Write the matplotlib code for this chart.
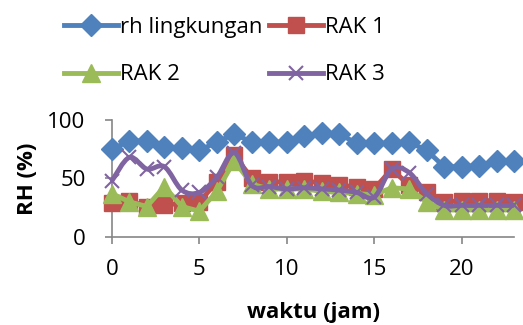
import numpy as np
import matplotlib.pyplot as plt
from matplotlib.path import Path
from matplotlib.patches import PathPatch
from matplotlib.lines import Line2D

plt.rcParams['font.family'] = ['Open Sans', 'DejaVu Sans']

jam = list(range(24))
rh_lingkungan = [75, 82, 82, 77, 76, 74, 81, 88, 81, 81, 81, 86,
                 89, 88, 80, 80, 80, 81, 74, 60, 60, 61, 65, 65]
rak1 = [29, 31, 26, 27, 29, 30, 47, 70, 50, 47, 47, 48,
        46, 44, 43, 41, 58, 44, 38, 30, 31, 31, 31, 30]
rak2 = [37, 30, 26, 43, 26, 22, 39, 65, 45, 41, 41, 41,
        39, 38, 37, 36, 42, 41, 30, 23, 23, 23, 23, 23]
rak3 = [48, 68, 58, 60, 40, 38, 51, 72, 44, 43, 41, 42,
        41, 40, 38, 34, 58, 55, 37, 27, 27, 27, 27, 27]

blue = '#4F81BD'
red = '#C0504D'
green = '#9BBB59'
purple = '#8064A2'
axis_gray = '#868686'


def smooth_path(xs, ys, t=1 / 6):
    # Catmull-Rom style cubic Bezier through every point
    xs = np.asarray(xs, float)
    ys = np.asarray(ys, float)
    pts = np.column_stack([xs, ys])
    verts = [pts[0]]
    codes = [Path.MOVETO]
    n = len(pts)
    for i in range(n - 1):
        p0 = pts[max(i - 1, 0)]
        p1 = pts[i]
        p2 = pts[i + 1]
        p3 = pts[min(i + 2, n - 1)]
        c1 = p1 + (p2 - p0) * t
        c2 = p2 - (p3 - p1) * t
        verts += [c1, c2, p2]
        codes += [Path.CURVE4] * 3
    return Path(verts, codes)


fig = plt.figure(figsize=(5.23, 3.25), dpi=100)
ax = fig.add_axes([0.214, 0.271, 0.769, 0.36])

ax.plot(jam, rh_lingkungan, color=blue, lw=3.5, marker='D', ms=11,
        clip_on=False, zorder=3)
ax.plot(jam, rak1, color=red, lw=3.5, marker='s', ms=11.5,
        clip_on=False, zorder=4)
ax.plot(jam, rak2, color=green, lw=3.5, marker='^', ms=12.5,
        clip_on=False, zorder=5)
ax.add_patch(PathPatch(smooth_path(jam, rak3), fill=False, edgecolor=purple,
                       lw=3.5, clip_on=False, zorder=6))
ax.plot(jam, rak3, linestyle='none', color=purple, marker='x', ms=10,
        mew=1.5, clip_on=False, zorder=6)

ax.set_xlim(0, 23)
ax.set_ylim(0, 100)
ax.set_xticks([0, 5, 10, 15, 20])
ax.set_yticks([0, 50, 100])
for side in ['top', 'right']:
    ax.spines[side].set_visible(False)
for side in ['left', 'bottom']:
    ax.spines[side].set_color(axis_gray)
    ax.spines[side].set_linewidth(1.2)
ax.tick_params(colors=axis_gray, labelcolor='black', labelsize=16,
               length=5, width=1.2)
ax.tick_params(axis='x', pad=11)
ax.tick_params(axis='y', pad=14)
ax.set_xlabel('waktu (jam)', fontsize=16, fontweight='bold', labelpad=16)
ax.set_ylabel('RH (%)', fontsize=16, fontweight='bold', labelpad=7)

handles = [
    Line2D([], [], color=blue, lw=3.5, marker='D', ms=11),
    Line2D([], [], color=green, lw=3.5, marker='^', ms=12.5),
    Line2D([], [], color=red, lw=3.5, marker='s', ms=11.5),
    Line2D([], [], color=purple, lw=3.5, marker='x', ms=10, mew=1.5),
]
labels = ['rh lingkungan', 'RAK 2', 'RAK 1', 'RAK 3']
fig.legend(handles, labels, ncol=2, loc='upper left',
           bbox_to_anchor=(0.085, 1.01), frameon=False, fontsize=16,
           handlelength=2.4, handletextpad=0.1, columnspacing=0.3,
           labelspacing=1.2)

fig.savefig('out.png', dpi=100)
